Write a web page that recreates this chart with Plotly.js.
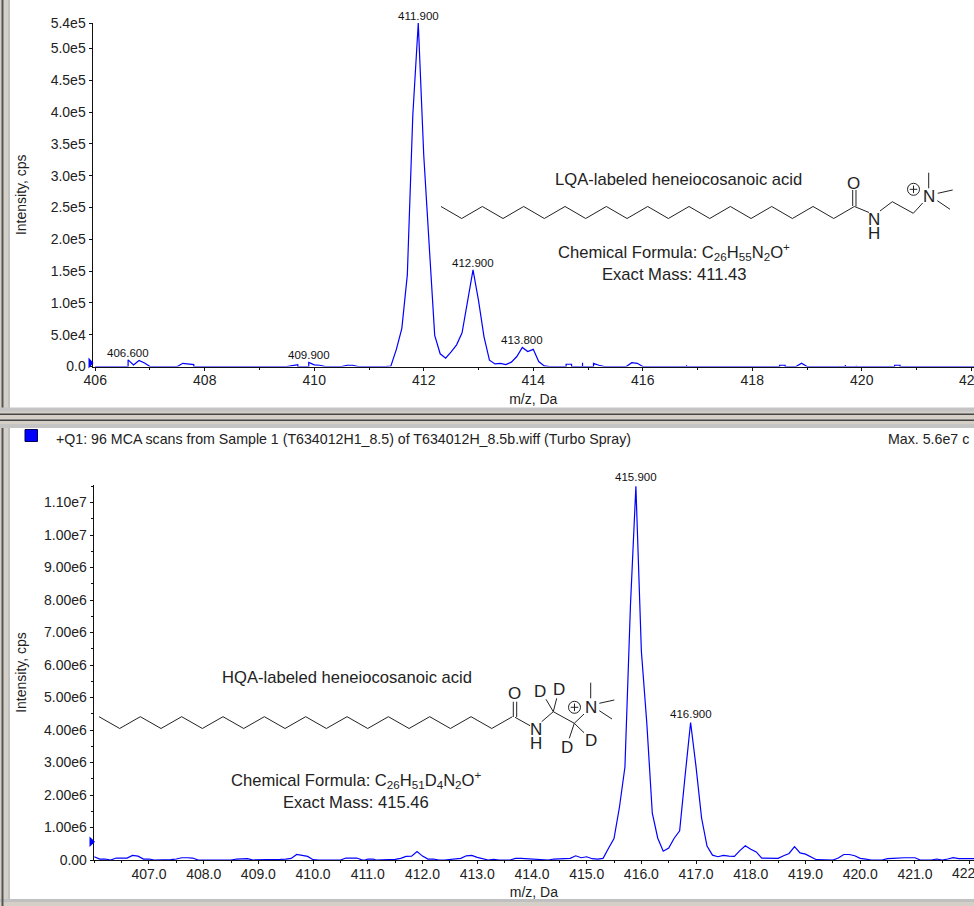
<!DOCTYPE html>
<html><head><meta charset="utf-8">
<script src="https://cdn.plot.ly/plotly-3.0.1.min.js"></script>
<style>html,body{margin:0;padding:0;background:#fff;overflow:hidden}#c{width:974px;height:906px}</style>
</head><body><div id="c"></div>
<script>
// ---- data ----
const lightMz = [406,406.6,406.6,406.7,406.8,406.9,407,407.5,407.6,407.7,407.8,407.8,409.5,409.6,409.7,409.7,409.9,409.9,410,410.1,410.2,410.5,410.6,410.7,410.8,411.3,411.4,411.5,411.6,411.7,411.8,411.9,412,412.1,412.2,412.3,412.4,412.5,412.6,412.7,412.8,412.9,413,413.1,413.2,413.3,413.4,413.5,413.6,413.7,413.8,413.9,414,414.1,414.2,414.3,414.6,414.6,414.7,414.7,414.9,414.9,414.9,415.1,415.1,415.2,415.3,415.7,415.8,415.9,416,416.8,416.8,416.8,418.5,418.5,418.6,418.6,418.8,418.9,419,419.7,419.7,419.7,419.9,419.9,419.9,420.6,420.6,420.7,420.7,422.05];
const lightCps = [0,0,10500,2500,9500,5500,0,0,5000,4000,3000,0,0,1500,3000,0,0,6500,2500,2000,0,0,2000,2000,0,0,800,27000,60000,144000,395000,540000,332000,190000,49000,20000,13000,23000,34000,53000,104000,152000,104000,47000,10000,4000,5000,3000,6800,15700,30000,23600,27000,7800,1000,0,0,3500,3500,0,0,6000,0,0,5000,2000,0,0,6000,5000,0,0,2000,0,0,2000,2000,0,0,5200,0,0,2500,0,0,1000,0,0,2000,2000,0,0];
const heavyMz = [406,406.1,406.2,406.3,406.4,406.5,406.6,406.7,406.8,406.9,407,407.1,407.3,407.4,407.5,407.6,407.7,407.8,407.9,408.5,408.6,408.7,408.8,408.9,409.3,409.4,409.5,409.6,409.7,409.8,409.9,410,410.1,410.5,410.6,410.7,410.8,410.9,410.95,411,411.1,411.15,411.4,411.5,411.6,411.7,411.8,411.9,412,412.1,412.2,412.3,412.4,412.5,412.6,412.7,412.8,412.9,413,413.1,413.2,413.3,413.4,413.6,413.7,413.8,413.9,414,414.1,414.3,414.4,414.5,414.6,414.7,414.8,414.9,415,415.1,415.2,415.3,415.4,415.5,415.6,415.7,415.8,415.9,416,416.1,416.2,416.3,416.4,416.5,416.6,416.7,416.8,416.9,417,417.1,417.2,417.3,417.4,417.5,417.6,417.7,417.8,417.9,418,418.1,418.2,418.3,418.4,418.5,418.6,418.7,418.8,418.9,419,419.1,419.2,419.5,419.6,419.7,419.8,419.9,420,420.1,420.2,420.4,420.5,420.6,420.7,420.8,420.9,421,421.1,421.3,421.4,421.5,421.6,421.7,421.8,421.9,422,422.08];
const heavyCps = [100000,30000,30000,0,60000,60000,60000,140000,120000,30000,30000,0,0,10000,30000,70000,70000,60000,0,0,30000,40000,40000,0,0,20000,30000,50000,170000,140000,110000,10000,0,0,60000,60000,60000,0,0,30000,30000,0,0,20000,50000,110000,120000,260000,120000,30000,30000,0,0,20000,30000,50000,130000,140000,80000,30000,0,20000,0,0,50000,50000,40000,30000,0,0,30000,30000,30000,50000,130000,70000,100000,40000,30000,50000,360000,660000,1630000,2860000,7800000,11500000,6430000,4200000,1440000,670000,270000,370000,670000,900000,2600000,4230000,2860000,1300000,430000,150000,100000,140000,120000,110000,290000,440000,330000,250000,60000,50000,50000,50000,130000,200000,410000,220000,180000,100000,10000,0,60000,170000,170000,130000,50000,30000,0,0,40000,50000,70000,70000,70000,70000,0,0,30000,0,30000,70000,40000,40000,40000,40000];
const lightPeakMz = [406.6,409.9,411.9,412.9,413.8];
const lightPeakCps = [10500,6500,540000,152000,30000];
const heavyPeakMz = [415.9,416.9];
const heavyPeakCps = [11500000,4230000];
const lightYTicks = [0,50000,100000,150000,200000,250000,300000,350000,400000,450000,500000,540000];
const lightYLabels = ['0.0','5.0e4','1.0e5','1.5e5','2.0e5','2.5e5','3.0e5','3.5e5','4.0e5','4.5e5','5.0e5','5.4e5'];
const lightXTicks = [406,408,410,412,414,416,418,420,422];
const heavyYTicks = [0,1e6,2e6,3e6,4e6,5e6,6e6,7e6,8e6,9e6,1e7,1.1e7];
const heavyYLabels = ['0.00','1.00e6','2.00e6','3.00e6','4.00e6','5.00e6','6.00e6','7.00e6','8.00e6','9.00e6','1.00e7','1.10e7'];
const heavyXTicks = [407,408,409,410,411,412,413,414,415,416,417,418,419,420,421,422];
const heavyXLabels = ['407.0','408.0','409.0','410.0','411.0','412.0','413.0','414.0','415.0','416.0','417.0','418.0','419.0','420.0','421.0','422.0'];

// ---- page geometry ----
const W = 974, H = 906, FONT = '"Liberation Sans", Arial, sans-serif';
const fx = x => x / W, fy = y => 1 - y / H;
const pxPath = (pts, close) => 'M' + pts.map(p => fx(p[0]).toFixed(5) + ',' + fy(p[1]).toFixed(5)).join('L') + (close ? 'Z' : '');
const shapes = [];
const rect = (x0, y0, x1, y1, color, line) => shapes.push({type:'rect', xref:'paper', yref:'paper', x0:fx(x0), x1:fx(x1), y0:fy(y1), y1:fy(y0), fillcolor:color, line:line || {width:0}, layer:'below'});
const bond = pts => shapes.push({type:'path', xref:'paper', yref:'paper', path:pxPath(pts), line:{color:'#222', width:1}});
const tri = pts => shapes.push({type:'path', xref:'paper', yref:'paper', path:pxPath(pts, true), fillcolor:'#0000ff', line:{width:0}});

// window chrome
rect(0,0,10,H,'#c0c0c0'); rect(0,0,8,H,'#d4d0c8'); rect(1.5,0,3.5,H,'#555');
rect(0,407.5,W,428,'#c4c4c4'); rect(0,411.5,W,424,'#d4d0c8'); rect(0,413.5,W,415,'#444'); rect(0,419.5,W,421,'#444');
rect(0,899,W,906,'#c0c0c0'); rect(0,902,W,906,'#d4d0c8'); rect(1.5,899,3.5,906,'#555');
rect(25,429.5,37.5,441.5,'#0000ff',{color:'#000050',width:1});
tri([[88.5,357.5],[93.5,363],[88.5,368.5]]);
tri([[89.5,836.5],[95,841.7],[89.5,847]]);

// chains
const chain = (x0, yUp, yDown) => { const p=[]; for (let i=0;i<=20;i++) p.push([x0 + i*20.67, i%2 ? yDown : yUp]); return p; };
bond(chain(441,206.5,218.5));
bond([[852.7,190],[852.7,206]]); bond([[856,190],[856,206.5]]);
bond([[854.4,206.5],[869,212.5]]);
bond([[880,211],[892.3,201.7],[913.3,213.3],[922.7,203]]);
bond([[928.7,172.7],[928.7,188.3]]); bond([[937.7,193.3],[952.7,190]]); bond([[937.3,200.7],[950,209.3]]);
shapes.push({type:'circle',xref:'paper',yref:'paper',x0:fx(907.5),x1:fx(919.5),y0:fy(195.3),y1:fy(183.3),line:{color:'#222',width:1}});
bond([[913.5,185.5],[913.5,193.1]]); bond([[909.7,189.3],[917.3,189.3]]);

bond(chain(99,716.7,728.5));
bond([[513.3,701.7],[513.3,717]]); bond([[516.7,701.7],[516.7,717]]);
bond([[515,717.3],[530,725.7]]);
bond([[541.7,721.7],[553.3,711.7],[574.3,723.3],[584,714]]);
bond([[553.3,711.7],[546,699.3]]); bond([[553.3,711.7],[556.7,698.3]]);
bond([[574.3,723.3],[569.3,738.3]]); bond([[574.3,723.3],[584,732.7]]);
bond([[590.7,682.7],[590.7,698.3]]); bond([[599.3,703.3],[614.3,700]]); bond([[599.3,710.7],[612,719]]);
shapes.push({type:'circle',xref:'paper',yref:'paper',x0:fx(568.5),x1:fx(580.5),y0:fy(713.3),y1:fy(701.3),line:{color:'#222',width:1}});
bond([[574.5,703.5],[574.5,711.1]]); bond([[570.7,707.3],[578.3,707.3]]);

// text
const note = (text, x, y, size, anchor) => ({text, xref:'paper', yref:'paper', x:fx(x), y:fy(y), xanchor:anchor||'center', yanchor:'middle', showarrow:false, borderpad:0, font:{family:FONT, size, color:'#222'}});
const annotations = [
  note('+Q1: 96 MCA scans from Sample 1 (T634012H1_8.5) of T634012H_8.5b.wiff (Turbo Spray)',55,439,14.2,'left'),
  note('Max. 5.6e7 c',887,439,14.2,'left'),
  note('LQA-labeled heneiocosanoic acid',678.5,179,16.6),
  note('Chemical Formula: C<sub>26</sub>H<sub>55</sub>N<sub>2</sub>O<sup>+</sup>',673.5,252,16.6),
  note('Exact Mass: 411.43',674,274,16.6),
  note('HQA-labeled heneiocosanoic acid',346.5,677,16.6),
  note('Chemical Formula: C<sub>26</sub>H<sub>51</sub>D<sub>4</sub>N<sub>2</sub>O<sup>+</sup>',356.5,779,16.6),
  note('Exact Mass: 415.46',356,802,16.6),
  note('O',853.3,183,17), note('N',874.3,219,17), note('H',874.3,233.5,17), note('N',929.3,196.7,17),
  note('O',514.7,693.3,17), note('N',535.7,729,17), note('H',535.7,743.8,17), note('N',590.7,707.3,17),
  note('D',540,691.7,17), note('D',559,689.3,17), note('D',567,747.3,17), note('D',590.7,740.7,17)
];
const peakNote = (mz, cps, xa, ya, shift) => ({text:mz.toFixed(3), x:mz, y:cps, xref:xa, yref:ya, showarrow:false, xanchor:'center', yanchor:'bottom', yshift:shift, font:{family:FONT, size:11.5, color:'#111'}});
lightPeakMz.forEach((m,i) => annotations.push(peakNote(m, lightPeakCps[i], 'x', 'y', -1)));
heavyPeakMz.forEach((m,i) => annotations.push(peakNote(m, heavyPeakCps[i], 'x2', 'y2', 1)));
// the last tick labels run off the right edge of the picture
const edgeLabel = (text, x, xa, y) => ({text, x, xref:xa, yref:'paper', y:fy(y), xanchor:'center', yanchor:'middle', showarrow:false, borderpad:0, font:{family:FONT, size:14, color:'#222'}});
annotations.push(edgeLabel(String(lightXTicks[lightXTicks.length-1]), lightXTicks[lightXTicks.length-1], 'x', 379.5));
annotations.push(edgeLabel(heavyXLabels[heavyXLabels.length-1], heavyXTicks[heavyXTicks.length-1], 'x2', 873));

const axisBase = {showgrid:false, zeroline:false, showline:true, linecolor:'#111', linewidth:1, ticks:'outside', tickcolor:'#111', ticklen:3, tickwidth:1, tickfont:{family:FONT, size:14, color:'#222'}, fixedrange:true};
const titleFont = {family:FONT, size:14, color:'#222'};
const trace = (x,y,xa,ya) => ({type:'scatter', mode:'lines', x, y, xaxis:xa, yaxis:ya, line:{color:'#0000ff', width:1.2, shape:'linear'}, hoverinfo:'skip', showlegend:false, cliponaxis:false});

Plotly.newPlot('c', [trace(lightMz,lightCps,'x','y'), trace(heavyMz,heavyCps,'x2','y2')], {
  width:W, height:H, margin:{l:0,r:0,t:0,b:0,pad:0}, paper_bgcolor:'#fff', plot_bgcolor:'rgba(0,0,0,0)', showlegend:false,
  shapes, annotations,
  xaxis:{...axisBase, anchor:'y', domain:[fx(92.5),1], range:[405.95,422.05], tickmode:'array', tickvals:lightXTicks, ticktext:lightXTicks.map(String), ticklabelstandoff:-2, minor:{ticks:'outside', ticklen:2, tickcolor:'#111', dtick:1, tick0:406}, title:{text:'m/z, Da', font:titleFont, standoff:6}},
  yaxis:{...axisBase, anchor:'x', domain:[fy(366.5),fy(23)], range:[0,540000], tickmode:'array', tickvals:lightYTicks, ticktext:lightYLabels, title:{text:'Intensity, cps', font:titleFont, standoff:20}},
  xaxis2:{...axisBase, anchor:'y2', domain:[fx(93.7),1], range:[405.99,422.08], tickmode:'array', tickvals:heavyXTicks, ticktext:heavyXLabels, ticklabelstandoff:-2, minor:{ticks:'outside', ticklen:2, tickcolor:'#111', dtick:0.5, tick0:406}, title:{text:'m/z, Da', font:titleFont, standoff:6}},
  yaxis2:{...axisBase, anchor:'x2', domain:[fy(860),fy(485)], range:[0,11540000], tickmode:'array', tickvals:heavyYTicks, ticktext:heavyYLabels, minor:{ticks:'outside', ticklen:2, tickcolor:'#111', dtick:500000, tick0:0}, title:{text:'Intensity, cps', font:titleFont, standoff:14}}
}, {displayModeBar:false, staticPlot:true});
</script></body></html>
